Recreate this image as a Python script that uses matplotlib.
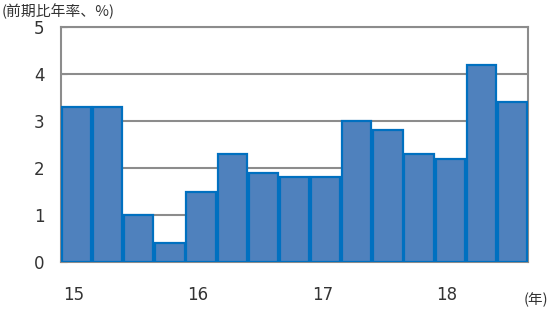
import matplotlib
matplotlib.use("Agg")
import matplotlib.pyplot as plt
import numpy as np

plt.rcParams['font.family'] = ['DejaVu Sans', 'Noto Sans CJK JP']

# quarterly growth, annualised (15Q1 .. 18Q3)
values = [3.3, 3.3, 1.0, 0.4, 1.5, 2.3, 1.9, 1.8, 1.8, 3.0, 2.8, 2.3, 2.2, 4.2, 3.4]
year_labels = ["15", "16", "17", "18"]
year_starts = [0, 4, 8, 12]
y_ticks = [0, 1, 2, 3, 4, 5]

fig = plt.figure(figsize=(5.5, 3.12), dpi=100)
ax = fig.add_axes([61 / 550, 50 / 312, 467 / 550, 235 / 312])

x = np.arange(len(values))
ax.bar(x, values, width=0.94, color="#4F81BD", edgecolor="#0070C0",
       linewidth=1.6, zorder=3)

ax.set_xlim(-0.5, len(values) - 0.5)
ax.set_ylim(0, 5)
ax.set_yticks(y_ticks)
ax.yaxis.grid(True, color="#8C8C8C", linewidth=1.5, zorder=1)
ax.set_axisbelow(True)

ax.set_xticks([p - 0.1 for p in year_starts])
ax.set_xticklabels(year_labels)
ax.tick_params(axis="x", length=0, pad=17, labelsize=12, labelcolor="#333333")
ax.tick_params(axis="y", direction="in", length=4, color="#8C8C8C",
               pad=12, labelsize=12, labelcolor="#333333")

for s in ax.spines.values():
    s.set_color("#8C8C8C")
    s.set_linewidth(1.5)

cjk = ['Noto Sans CJK JP', 'DejaVu Sans']
fig.text(2 / 550, 1 - 11 / 312, "(前期比年率、%)", fontsize=10.7,
         family=cjk, color="#333333", va="center", ha="left")
fig.text(548 / 550, 1 - 300 / 312, "(年)", fontsize=10.5,
         family=cjk, color="#333333", va="center", ha="right")

fig.savefig("out.png", dpi=100)
